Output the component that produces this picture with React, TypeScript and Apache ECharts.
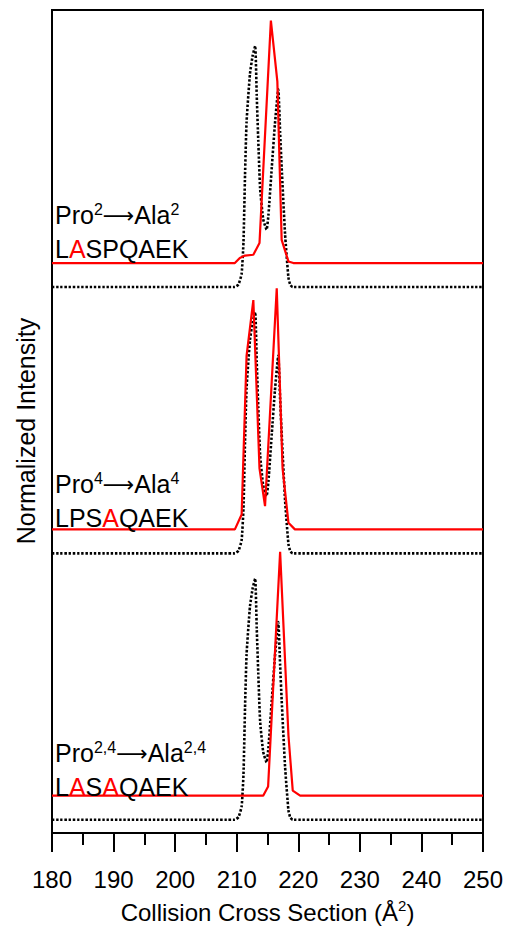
import React, { useEffect, useRef } from "react";
import * as echarts from "echarts";

// Reference trace (black dotted), shared by the three panels
const refCCS = [180, 209.7, 210.3, 210.8, 211.1, 211.35, 211.6, 212.15, 212.6, 213.0, 213.25, 213.5, 213.8, 214.3, 214.85, 215.15, 215.7, 216.2, 216.75, 217.05, 217.3, 217.85, 218.4, 218.7, 219.1, 250];
const refInt = [0, 0, 0.01, 0.05, 0.17, 0.42, 0.62, 0.8, 0.87, 0.905, 0.72, 0.55, 0.37, 0.255, 0.215, 0.27, 0.45, 0.61, 0.742, 0.58, 0.45, 0.2, 0.035, 0.008, 0, 0];

// Mutant traces (red)
const mut1CCS = [180, 209.7, 210.5, 211.35, 212.7, 213.7, 215.55, 216.6, 217.3, 218.4, 219.2, 250];
const mut1Int = [0, 0, 0.019, 0.028, 0.031, 0.075, 0.91, 0.682, 0.087, 0.006, 0, 0];

const mut2CCS = [180, 209.7, 210.8, 211.6, 212.7, 213.7, 214.6, 216.5, 217.45, 218.4, 219.45, 250];
const mut2Int = [0, 0, 0.056, 0.651, 0.861, 0.229, 0.087, 0.905, 0.229, 0.025, 0, 0];

const mut3CCS = [180, 214.3, 215.1, 217.05, 218.4, 219.1, 220.3, 250];
const mut3Int = [0, 0, 0.035, 0.916, 0.227, 0.019, 0, 0];

const xMin = 180;
const xMax = 250;
const xStep = 10;

const FONT = "'Liberation Sans', Arial, Helvetica, sans-serif";

// vertical stacking (layout, not data)
const panelOffset = [2, 1, 0];
const redLift = 0.09;

function pairs(xs: number[], ys: number[], off: number) {
  return xs.map((x, i) => [x, ys[i] + off]);
}

export default function App() {
  const ref = useRef<HTMLDivElement>(null);
  useEffect(() => {
    if (!ref.current) return;
    const chart = echarts.init(ref.current, undefined, { renderer: "svg" });
    const muts = [
      [mut1CCS, mut1Int],
      [mut2CCS, mut2Int],
      [mut3CCS, mut3Int],
    ];
    const series: any[] = [];
    panelOffset.forEach((off, i) => {
      series.push({
        type: "line",
        data: pairs(refCCS, refInt, off),
        showSymbol: false,
        symbol: "none",
        smooth: 0.15,
        lineStyle: { color: "#000", width: 2.6, type: [2.4, 1.8] },
        z: 2,
      });
      series.push({
        type: "line",
        data: pairs(muts[i][0] as number[], muts[i][1] as number[], off + redLift),
        showSymbol: false,
        symbol: "none",
        lineStyle: { color: "#ff0000", width: 2.2 },
        z: 3,
      });
    });

    const base = { fontFamily: FONT, fill: "#000" };
    const rich = {
      n: { ...base, fontSize: 25, lineHeight: 28, verticalAlign: "middle" },
      r: { ...base, fill: "#ff0000", fontSize: 25, lineHeight: 28, verticalAlign: "middle" },
      w: { fontFamily: "'DejaVu Sans', sans-serif", fill: "#000", fontSize: 22, lineHeight: 28, verticalAlign: "middle" },
      s: { ...base, fontSize: 16, lineHeight: 28, verticalAlign: "top" },
    };
    const labels = [
      ["{n|Pro}{s|2}{w|⟶}{n|Ala}{s|2}", "{n|L}{r|A}{n|SPQAEK}", 215, 248.5],
      ["{n|Pro}{s|4}{w|⟶}{n|Ala}{s|4}", "{n|LPS}{r|A}{n|QAEK}", 484, 517.5],
      ["{n|Pro}{s|2,4}{w|⟶}{n|Ala}{s|2,4}", "{n|L}{r|A}{n|S}{r|A}{n|QAEK}", 753, 786.5],
    ];
    const graphic: any[] = [];
    labels.forEach(([l1, l2, y1, y2]) => {
      graphic.push({
        type: "text",
        x: 55,
        y: y1,
        style: { text: l1, rich, verticalAlign: "middle", align: "left" },
        z: 10,
      });
      graphic.push({
        type: "text",
        x: 55,
        y: y2,
        style: { text: l2, rich, verticalAlign: "middle", align: "left" },
        z: 10,
      });
    });
    graphic.push({
      type: "text",
      x: 26,
      y: 431,
      rotation: Math.PI / 2,
      style: {
        text: "Normalized Intensity",
        fontFamily: FONT,
        fontSize: 25,
        fill: "#000",
        align: "center",
        verticalAlign: "middle",
      },
      z: 10,
    });

    chart.setOption({
      animation: false,
      backgroundColor: "#fff",
      grid: {
        left: 52,
        right: 24,
        top: 10,
        bottom: 87,
        show: true,
        borderColor: "#000",
        borderWidth: 2,
        backgroundColor: "transparent",
      },
      xAxis: {
        type: "value",
        min: xMin,
        max: xMax,
        interval: xStep,
        name: "{a|Collision Cross Section (Å}{b|2}{a|)}",
        nameLocation: "middle",
        nameGap: 65,
        nameTextStyle: {
          rich: {
            a: { fontFamily: FONT, fontSize: 24, color: "#000", lineHeight: 28, verticalAlign: "middle" },
            b: { fontFamily: FONT, fontSize: 15, color: "#000", lineHeight: 28, verticalAlign: "top" },
          },
        },
        axisLine: { show: true, onZero: false, lineStyle: { color: "#000", width: 2 } },
        axisTick: { show: true, inside: false, length: 19, lineStyle: { color: "#000", width: 2 } },
        minorTick: { show: true, splitNumber: 2, length: 12, lineStyle: { color: "#000", width: 2 } },
        axisLabel: { fontFamily: FONT, fontSize: 24, color: "#000", margin: 34 },
        splitLine: { show: false },
        minorSplitLine: { show: false },
      },
      yAxis: {
        type: "value",
        min: -0.05,
        max: 3.04,
        axisLine: { show: false },
        axisTick: { show: false },
        axisLabel: { show: false },
        splitLine: { show: false },
      },
      graphic,
      series,
    });
    return () => chart.dispose();
  }, []);
  return (
    <div
      ref={ref}
      style={{ position: "absolute", left: 0, top: 0, width: 507, height: 929, background: "#fff" }}
    />
  );
}
